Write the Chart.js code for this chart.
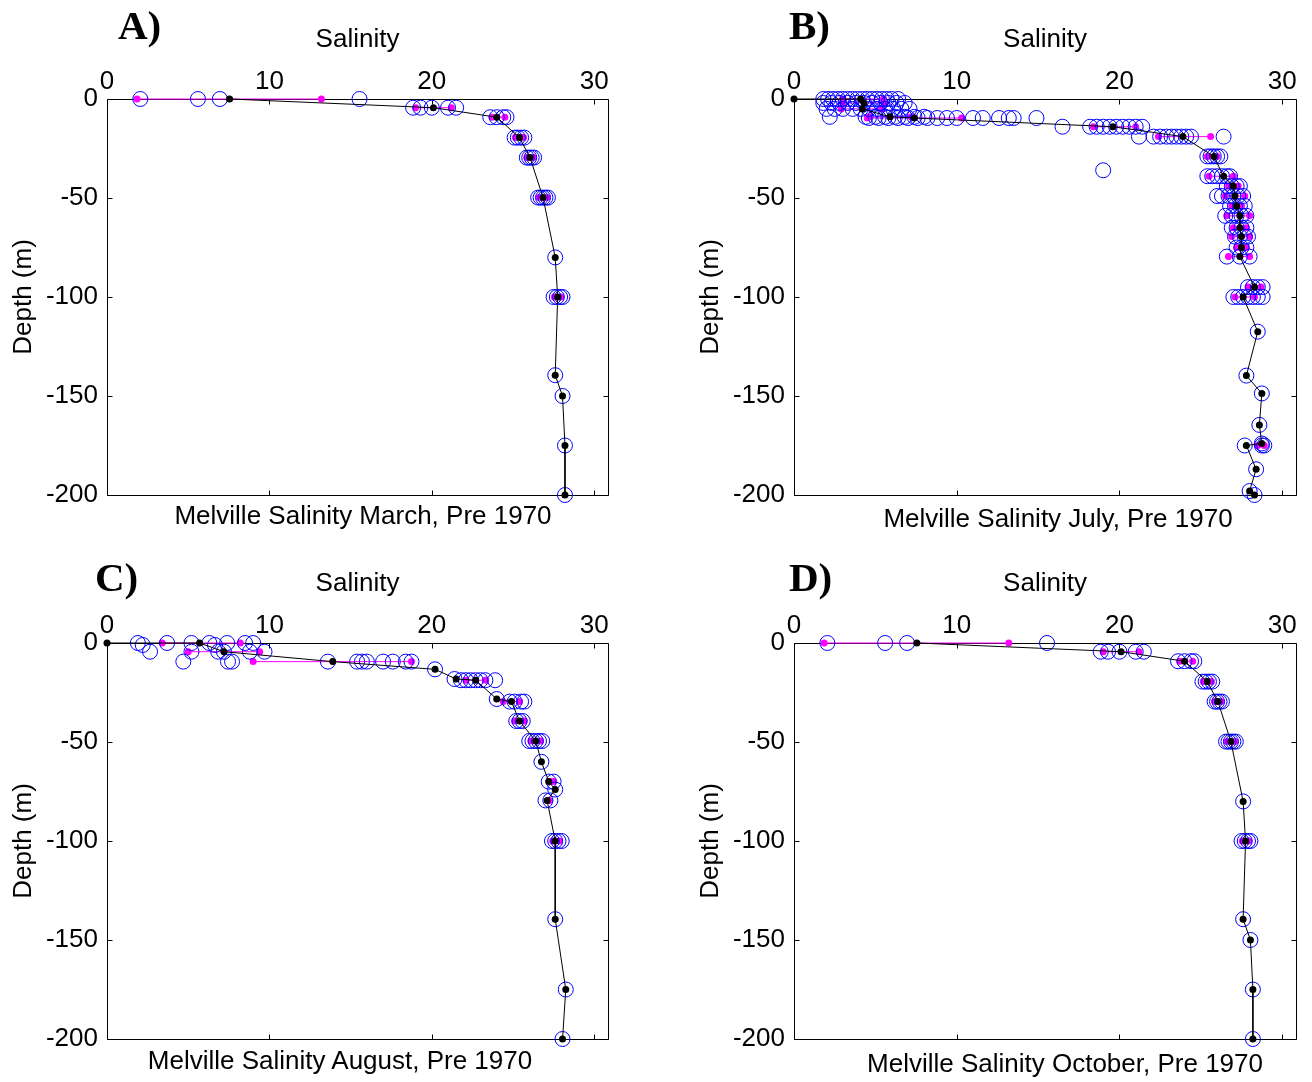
<!DOCTYPE html>
<html>
<head>
<meta charset="utf-8">
<script src="https://cdn.jsdelivr.net/npm/chart.js@4.4.1/dist/chart.umd.min.js"></script>
<style>
  html, body { margin: 0; padding: 0; background: #fff; }
  body { width: 1312px; height: 1082px; position: relative; overflow: hidden;
         font-family: "Liberation Sans", Arial, sans-serif; }
  .panel { position: absolute; width: 656px; height: 541px; }
  .panel canvas { position: absolute; left: 0; top: 0; }
  .lab { position: absolute; font-family: "Liberation Serif", "Times New Roman", serif;
         font-weight: bold; font-size: 41px; line-height: 41px; white-space: nowrap; color: #000; }
  .cap { position: absolute; font-size: 26px; line-height: 26px; white-space: nowrap; color: #000;
         transform: translate(-50%, -50%); }
</style>
</head>
<body>
<div class="panel" style="left:0px;top:0px"><canvas id="cA" width="656" height="541"></canvas></div>
<div class="panel" style="left:687px;top:0px"><canvas id="cB" width="625" height="541"></canvas></div>
<div class="panel" style="left:0px;top:544px"><canvas id="cC" width="656" height="541"></canvas></div>
<div class="panel" style="left:687px;top:544px"><canvas id="cD" width="625" height="541"></canvas></div>

<div class="lab" style="left:118px;top:5px">A)</div>
<div class="lab" style="left:789px;top:5px">B)</div>
<div class="lab" style="left:95px;top:557px">C)</div>
<div class="lab" style="left:789px;top:557px">D)</div>

<div class="cap" style="left:363px;top:515px">Melville Salinity March, Pre 1970</div>
<div class="cap" style="left:1058px;top:518px">Melville Salinity July, Pre 1970</div>
<div class="cap" style="left:340px;top:1060px">Melville Salinity August, Pre 1970</div>
<div class="cap" style="left:1065px;top:1063px">Melville Salinity October, Pre 1970</div>

<script>
// ---------------- tick labels ----------------
const xTicks = [0, 10, 20, 30];
const yTicks = [0, -50, -100, -150, -200];
const xMin = 0, xMax = 30.85, yMin = -200, yMax = 0;

// ---------------- A) March ----------------
const marchDepth = [0, -4.4, -9.2, -19.5, -29.6, -49.8, -80, -100, -139.5, -150, -175, -200];
const marchMean  = [7.55, 20.1, 24.0, 25.4, 26.05, 26.85, 27.6, 27.75, 27.6, 28.05, 28.2, 28.2];
const marchLow   = [1.85, 19.0, 23.7, 25.15, 25.85, 26.6, null, 27.55, null, null, null, null];
const marchHigh  = [13.2, 21.2, 24.5, 25.65, 26.25, 27.1, null, 27.95, null, null, null, null];
const marchObsDepth = [0, -4.4, -9.2, -19.5, -29.6, -49.8, -80, -100, -139.5, -150, -175, -200];
const marchObs = [
  [2.05, 5.6, 6.95, 15.55],
  [18.85, 19.3, 20.0, 21.0, 21.5],
  [23.6, 24.0, 24.4, 24.6],
  [25.1, 25.3, 25.5, 25.7],
  [25.85, 26.0, 26.15, 26.3],
  [26.55, 26.7, 26.85, 27.0, 27.15],
  [27.6],
  [27.5, 27.7, 27.9, 28.05],
  [27.6],
  [28.05],
  [28.2],
  [28.2]
];

// ---------------- B) July ----------------
const julyDepth = [0, 0, -2, -5, -9, -9.6, -14, -19, -29, -39, -44, -49, -54, -59, -65, -69.5, -75, -79.6,
                   -95, -100, -117.5, -139.7, -148.7, -164.6, -174, -175, -187, -198, -200];
const julyMean  = [0, 4.1, 4.3, 4.2, 5.9, 7.4, 19.6, 23.9, 25.8, 26.4, 27.0, 27.1, 27.2, 27.4, 27.4, 27.5, 27.5, 27.4,
                   28.3, 27.6, 28.5, 27.8, 28.75, 28.6, 28.75, 27.8, 28.4, 28.0, 28.3];
const julyLow   = [null, 3.0, 3.0, 2.9, 4.6, 4.5, 18.4, 22.4, 25.4, 25.5, 26.7, 26.5, 26.9, 26.6, 27.0, 26.9, 27.2, 26.7,
                   27.9, 27.1, null, null, null, null, null, 28.5, null, null, null];
const julyHigh  = [null, 5.5, 5.6, 5.4, 7.2, 10.3, 21.0, 25.6, 26.0, 27.0, 27.3, 27.7, 27.5, 28.0, 27.8, 28.0, 27.8, 28.0,
                   28.7, 28.3, null, null, null, null, null, 28.9, null, null, null];
const julyObsDepth = [0, -2, -5, -9, -9.6, -14, -19, -29, -36, -39, -44, -49, -54, -59, -65, -69.5, -75, -79.6,
                      -95, -100, -117.5, -139.7, -148.7, -164.6, -174, -175, -187, -198, -200];
const julyObs = [
  [1.8, 2.1, 2.4, 2.7, 3.0, 3.3, 3.6, 3.9, 4.2, 4.5, 4.8, 5.1, 5.4, 5.7, 6.0, 6.4],
  [1.8, 2.3, 2.8, 3.3, 3.8, 4.3, 4.8, 5.3, 5.8, 6.3, 6.8],
  [2.0, 2.5, 3.0, 3.6, 4.1, 4.6, 5.1, 5.6, 6.1, 6.6, 7.1],
  [2.2, 4.4, 5.0, 5.6, 6.2, 6.8, 7.4, 8.0],
  [4.6, 5.2, 5.8, 6.4, 7.0, 7.6, 8.2, 8.8, 9.4, 10.0, 11.0, 11.6, 12.6, 13.2, 13.5, 14.9],
  [16.5, 18.2, 18.6, 19.0, 19.4, 19.8, 20.2, 20.6, 21.0, 21.4],
  [21.2, 22.1, 22.5, 22.9, 23.2, 23.5, 23.8, 24.1, 24.4, 26.4],
  [25.4, 25.6, 25.8, 26.0, 26.2],
  [19.0],
  [25.4, 25.7, 26.0, 26.3, 26.6, 26.8],
  [26.6, 26.9, 27.2, 27.4],
  [26.0, 26.3, 26.7, 27.0, 27.3, 27.6],
  [26.8, 27.1, 27.4, 27.7],
  [26.5, 26.9, 27.2, 27.5, 27.8],
  [26.9, 27.2, 27.5, 27.8],
  [27.1, 27.4, 27.7, 27.9],
  [27.2, 27.5, 27.8],
  [26.6, 27.4, 28.0],
  [27.9, 28.2, 28.5, 28.8],
  [27.0, 27.3, 27.6, 27.9, 28.2, 28.5, 28.8],
  [28.5],
  [27.8],
  [28.75],
  [28.6],
  [28.75],
  [27.7, 28.75, 28.9],
  [28.4],
  [28.0],
  [28.3]
];

// ---------------- C) August ----------------
const augDepth = [0, 0, -4.4, -9.4, -13.3, -18.2, -18.8, -28.3, -29.6, -39.4, -49.5, -60, -70, -74, -79.5, -100, -139.5, -175, -200];
const augMean  = [0, 5.7, 7.2, 13.9, 20.2, 21.5, 22.7, 24.0, 24.9, 25.4, 26.4, 26.75, 27.2, 27.6, 27.1, 27.6, 27.6, 28.25, 28.05];
const augLow   = [null, 3.4, 5.0, 9.0, null, null, 22.1, null, 24.4, 25.1, 26.1, null, 27.3, null, 27.2, 27.45, null, null, null];
const augHigh  = [null, 8.2, 9.4, 18.75, null, null, 23.3, null, 25.4, 25.7, 26.7, null, 27.5, null, 27.25, 27.85, null, null, null];
const augObsDepth = [0, -1, -4.4, -9.4, -13.3, -18.2, -18.8, -28.3, -29.6, -39.4, -49.5, -60, -70, -74, -79.5, -100, -139.5, -175, -200];
const augObs = [
  [1.9, 3.7, 5.2, 6.3, 7.4, 8.5, 9.0],
  [2.2, 6.65],
  [2.65, 5.2, 6.85, 7.2, 8.8, 9.7],
  [4.7, 7.45, 7.7, 13.6, 15.4, 15.7, 16.0, 17.0, 17.6, 18.4, 18.75],
  [20.2],
  [21.4],
  [21.8, 22.1, 22.4, 22.7, 23.0, 23.3, 23.9],
  [24.0],
  [24.8, 25.1, 25.5, 25.7],
  [25.2, 25.4, 25.6],
  [26.0, 26.2, 26.4, 26.6, 26.8],
  [26.75],
  [27.2, 27.5],
  [27.6],
  [27.0, 27.3],
  [27.4, 27.6, 27.8, 28.0],
  [27.6],
  [28.25],
  [28.05]
];

// ---------------- D) October ----------------
const octDepth = [0, -4.4, -9.2, -19.5, -29.6, -49.8, -80, -100, -139.5, -150, -175, -200];
const octMean  = [7.55, 20.1, 24.0, 25.4, 26.05, 26.85, 27.6, 27.75, 27.6, 28.05, 28.2, 28.2];
const octLow   = [1.85, 19.0, 23.7, 25.15, 25.85, 26.6, null, 27.55, null, null, null, null];
const octHigh  = [13.2, 21.2, 24.5, 25.65, 26.25, 27.1, null, 27.95, null, null, null, null];
const octObsDepth = [0, -4.4, -9.2, -19.5, -29.6, -49.8, -80, -100, -139.5, -150, -175, -200];
const octObs = [
  [2.05, 5.6, 6.95, 15.55],
  [18.85, 19.3, 20.0, 21.0, 21.5],
  [23.6, 24.0, 24.4, 24.6],
  [25.1, 25.3, 25.5, 25.7],
  [25.85, 26.0, 26.15, 26.3],
  [26.55, 26.7, 26.85, 27.0, 27.15],
  [27.6],
  [27.5, 27.7, 27.9, 28.05],
  [27.6],
  [28.05],
  [28.2],
  [28.2]
];

// ---------------- chart building ----------------
Chart.defaults.font.family = "'Liberation Sans', Arial, sans-serif";
Chart.defaults.font.size = 26;
Chart.defaults.color = '#000';

const boxTicks = {
  id: 'boxTicks',
  beforeDatasetsDraw(chart) {
    const a = chart.chartArea, ctx = chart.ctx;
    const xs = chart.scales.x, ys = chart.scales.y;
    const L = Math.round(a.left) + 0.5, R = Math.round(a.right) + 0.5;
    const T = Math.round(a.top) + 0.5, B = Math.round(a.bottom) + 0.5;
    ctx.save();
    ctx.strokeStyle = '#000';
    ctx.lineWidth = 1;
    ctx.beginPath();
    ctx.rect(L, T, R - L, B - T);
    const tl = 5;
    xTicks.forEach(v => {
      const px = Math.round(xs.getPixelForValue(v)) + 0.5;
      ctx.moveTo(px, T); ctx.lineTo(px, T + tl);
      ctx.moveTo(px, B); ctx.lineTo(px, B - tl);
    });
    yTicks.forEach(v => {
      const py = Math.round(ys.getPixelForValue(v)) + 0.5;
      ctx.moveTo(L, py); ctx.lineTo(L + tl, py);
      ctx.moveTo(R, py); ctx.lineTo(R - tl, py);
    });
    ctx.stroke();
    ctx.restore();
  }
};

function buildChart(id, depth, mean, low, high, obsDepth, obs, padRight) {
  const magenta = [];
  depth.forEach((d, i) => {
    if (low[i] !== null && high[i] !== null) {
      magenta.push({x: low[i], y: d}, {x: high[i], y: d}, {x: null, y: null});
    }
  });
  const blue = [];
  obsDepth.forEach((d, i) => obs[i].forEach(v => blue.push({x: v, y: d})));
  const black = depth.map((d, i) => ({x: mean[i], y: d}));

  return new Chart(document.getElementById(id), {
    type: 'scatter',
    data: {
      datasets: [
        { data: magenta, showLine: true, spanGaps: false, borderColor: '#ff00ff', borderWidth: 1,
          pointRadius: 3.5, pointBackgroundColor: '#ff00ff', pointBorderWidth: 0, order: 3, clip: false },
        { data: blue, showLine: false, pointRadius: 7.5, pointBorderColor: '#0000ff',
          pointBackgroundColor: 'rgba(0,0,0,0)', pointBorderWidth: 1, order: 2, clip: false },
        { data: black, showLine: true, borderColor: '#000', borderWidth: 1,
          pointRadius: 3.5, pointBackgroundColor: '#000', pointBorderWidth: 0, order: 1, clip: false }
      ]
    },
    options: {
      responsive: false,
      animation: false,
      devicePixelRatio: 1,
      layout: { padding: { left: 0, top: 0, right: padRight, bottom: 46 } },
      plugins: { legend: { display: false }, tooltip: { enabled: false } },
      elements: { line: { tension: 0 } },
      scales: {
        x: {
          type: 'linear', position: 'top', min: xMin, max: xMax,
          afterBuildTicks: s => { s.ticks = xTicks.map(v => ({value: v})); },
          afterFit: s => { s.height = 99; },
          grid: { display: false }, border: { display: false },
          ticks: { padding: -6, maxRotation: 0, autoSkip: false, callback: v => String(v) },
          title: { display: true, text: 'Salinity', padding: { top: 24, bottom: 0 } }
        },
        y: {
          type: 'linear', position: 'left', min: yMin, max: yMax,
          afterBuildTicks: s => { s.ticks = yTicks.map(v => ({value: v})); },
          afterFit: s => { s.width = 107; },
          grid: { display: false }, border: { display: false },
          ticks: { padding: 1, autoSkip: false, callback: v => String(v) },
          title: { display: true, text: 'Depth (m)', padding: { top: 8, bottom: 0 } }
        }
      }
    },
    plugins: [boxTicks]
  });
}

buildChart('cA', marchDepth, marchMean, marchLow, marchHigh, marchObsDepth, marchObs, 48);
buildChart('cB', julyDepth, julyMean, julyLow, julyHigh, julyObsDepth, julyObs, 16);
buildChart('cC', augDepth, augMean, augLow, augHigh, augObsDepth, augObs, 48);
buildChart('cD', octDepth, octMean, octLow, octHigh, octObsDepth, octObs, 16);
</script>
</body>
</html>
